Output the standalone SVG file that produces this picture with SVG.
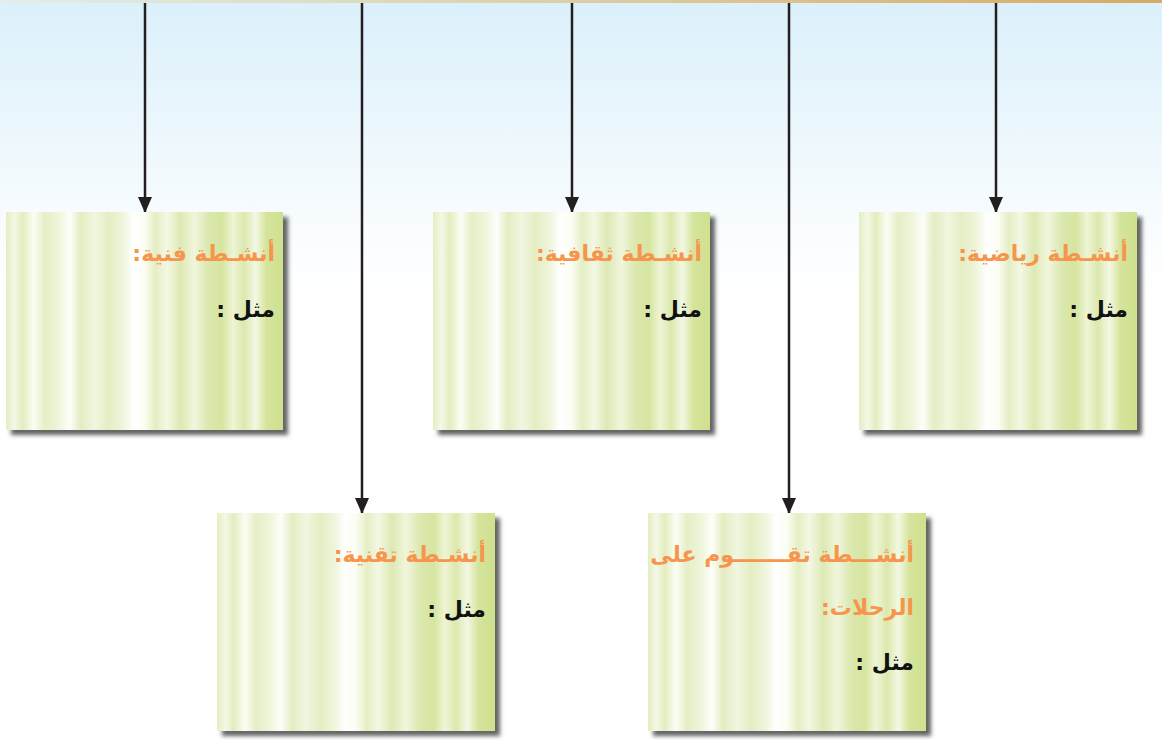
<svg xmlns="http://www.w3.org/2000/svg" width="1162" height="740" viewBox="0 0 1162 740">
<style>
.title{font-family:"DejaVu Sans",sans-serif;font-weight:bold;font-size:22px;fill:#f7944d;}
.ex{font-family:"DejaVu Sans",sans-serif;font-weight:bold;font-size:22px;fill:#111;}
.conn{stroke:#231f20;stroke-width:2.5;fill:none;marker-end:url(#arr);}
.box{fill:url(#curtain);filter:url(#sh);}
</style>
<defs>
<linearGradient id="bg" x1="0" y1="0" x2="0" y2="1">
<stop offset="0" stop-color="#dbf0fb"/>
<stop offset="0.3" stop-color="#f8fcfe"/>
<stop offset="0.4" stop-color="#ffffff"/>
<stop offset="1" stop-color="#ffffff"/>
</linearGradient>
<linearGradient id="topbar" x1="0" y1="0" x2="1" y2="0">
<stop offset="0" stop-color="#e2eeea"/>
<stop offset="0.35" stop-color="#ddd8b8"/>
<stop offset="0.7" stop-color="#dcbf88"/>
<stop offset="1" stop-color="#d8aa62"/>
</linearGradient>
<linearGradient id="curtain" x1="0" y1="0" x2="1" y2="0">
<stop offset="0" stop-color="#e3eec2"/>
<stop offset="0.03" stop-color="#f4f8e6"/>
<stop offset="0.06" stop-color="#e2edbf"/>
<stop offset="0.1" stop-color="#fbfdf4"/>
<stop offset="0.14" stop-color="#e5efc6"/>
<stop offset="0.19" stop-color="#eef5da"/>
<stop offset="0.23" stop-color="#fdfefa"/>
<stop offset="0.27" stop-color="#e3edc2"/>
<stop offset="0.32" stop-color="#f1f6e0"/>
<stop offset="0.37" stop-color="#e4eec4"/>
<stop offset="0.42" stop-color="#eef5da"/>
<stop offset="0.46" stop-color="#ffffff"/>
<stop offset="0.5" stop-color="#fbfdf3"/>
<stop offset="0.54" stop-color="#e4eec3"/>
<stop offset="0.58" stop-color="#f3f8e4"/>
<stop offset="0.63" stop-color="#dde9b4"/>
<stop offset="0.68" stop-color="#f0f6dc"/>
<stop offset="0.73" stop-color="#dbe8af"/>
<stop offset="0.78" stop-color="#d6e59f"/>
<stop offset="0.82" stop-color="#eef5d6"/>
<stop offset="0.86" stop-color="#dbe8ad"/>
<stop offset="0.9" stop-color="#f3f8e3"/>
<stop offset="0.94" stop-color="#d5e49c"/>
<stop offset="1" stop-color="#cfe08e"/>
</linearGradient>
<filter id="sh" x="-5%" y="-5%" width="115%" height="115%">
<feDropShadow dx="5" dy="5" stdDeviation="2" flood-color="#4a4a4a" flood-opacity="0.85"/>
</filter>
<marker id="arr" markerUnits="userSpaceOnUse" markerWidth="16" markerHeight="18" refX="15" refY="8" orient="auto">
<path d="M0,1 L16,8 L0,15 Z" fill="#231f20"/>
</marker>
</defs>
<rect x="0" y="0" width="1162" height="740" fill="url(#bg)"/>
<rect x="0" y="0" width="1162" height="3" fill="url(#topbar)"/>

<g id="connectors">
<line class="conn" x1="145" y1="3" x2="145" y2="212"/>
<line class="conn" x1="362" y1="3" x2="362" y2="513"/>
<line class="conn" x1="572" y1="3" x2="572" y2="212"/>
<line class="conn" x1="789" y1="3" x2="789" y2="513"/>
<line class="conn" x1="996" y1="3" x2="996" y2="212"/>
</g>

<g id="node-art">
<rect class="box" x="6" y="212" width="277" height="218"/>
<text class="title" x="275" y="261" direction="rtl">أنشـطة فنية:</text>
<text class="ex" x="275" y="317" direction="rtl">مثل :</text>
</g>

<g id="node-culture">
<rect class="box" x="433" y="212" width="277" height="218"/>
<text class="title" x="702" y="261" direction="rtl">أنشـطة ثقافية:</text>
<text class="ex" x="702" y="317" direction="rtl">مثل :</text>
</g>

<g id="node-sport">
<rect class="box" x="859" y="212" width="278" height="218"/>
<text class="title" x="1128" y="261" direction="rtl">أنشـطة رياضية:</text>
<text class="ex" x="1128" y="317" direction="rtl">مثل :</text>
</g>

<g id="node-tech">
<rect class="box" x="217" y="513" width="278" height="218"/>
<text class="title" x="486" y="562" direction="rtl">أنشـطة تقنية:</text>
<text class="ex" x="486" y="617" direction="rtl">مثل :</text>
</g>

<g id="node-trips">
<rect class="box" x="648" y="513" width="278" height="218"/>
<text class="title" x="914" y="562" direction="rtl">أنشـــطة تقـــــــوم على</text>
<text class="title" x="914" y="615" direction="rtl">الرحلات:</text>
<text class="ex" x="914" y="670" direction="rtl">مثل :</text>
</g>
</svg>
